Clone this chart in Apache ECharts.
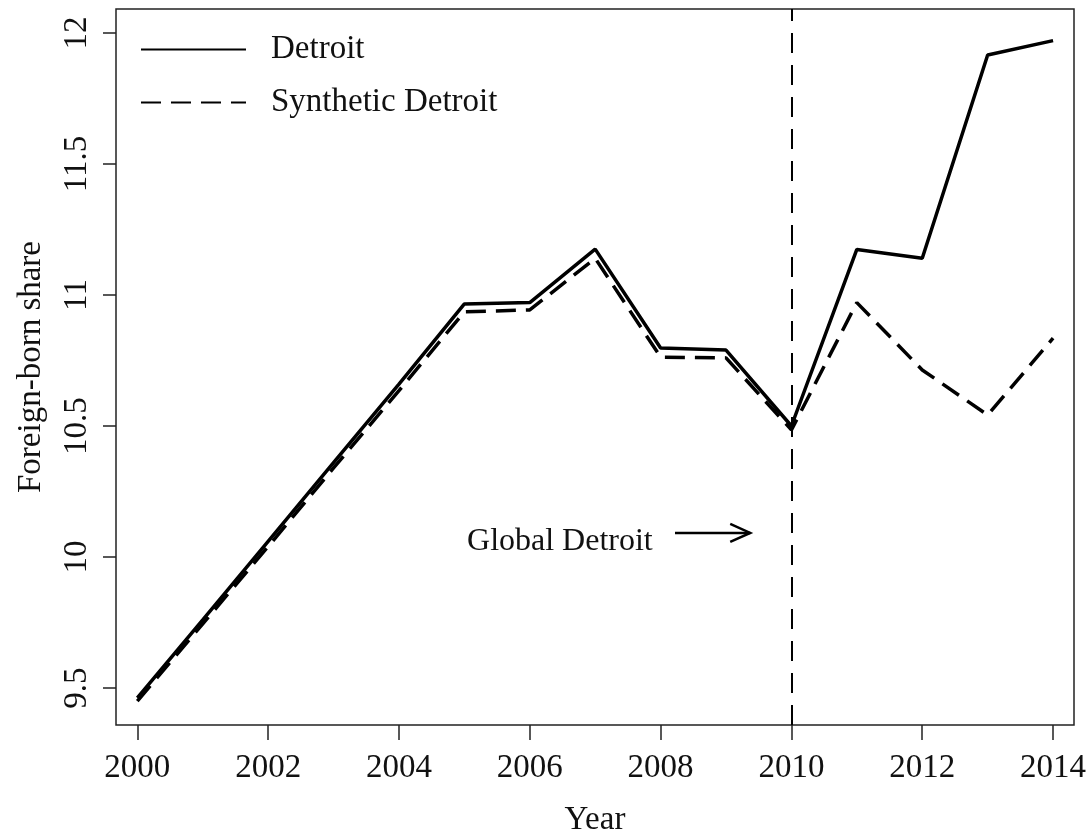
<!DOCTYPE html>
<html>
<head>
<meta charset="utf-8">
<script src="https://cdn.jsdelivr.net/npm/echarts@6/dist/echarts.min.js"></script>
<style>
html,body{margin:0;padding:0;background:#fff;}
#chart{width:1092px;height:834px;}
</style>
</head>
<body>
<div id="chart"></div>
<script>
const years = [2000,2001,2002,2003,2004,2005,2006,2007,2008,2009,2010,2011,2012,2013,2014];
const detroit = [9.462,9.76,10.06,10.36,10.66,10.966,10.971,11.175,10.798,10.79,10.50,11.174,11.14,11.916,11.971];
const synthetic = [9.45,9.745,10.04,10.34,10.635,10.936,10.943,11.14,10.763,10.76,10.485,10.971,10.714,10.542,10.835];
const xTicks = [2000,2002,2004,2006,2008,2010,2012,2014];
const yTicks = [9.5,10,10.5,11,11.5,12];
const treatmentYear = 2010;
const annotationText = 'Global Detroit';

const FONT = 'Liberation Serif';
const chart = echarts.init(document.getElementById('chart'));
const pair = arr => years.map((y,i)=>[y,arr[i]]);

chart.setOption({
  animation:false,
  backgroundColor:'#fff',
  grid:{left:116,right:18,top:9,bottom:109,show:true,borderColor:'#222',borderWidth:1.5,backgroundColor:'transparent',
        containLabel:false,outerBoundsMode:'none'},
  legend:{
    orient:'vertical',left:140,top:33,itemWidth:105,itemHeight:14,itemGap:20,padding:0,
    data:['Detroit','Synthetic Detroit'],
    itemStyle:{opacity:0},
    textStyle:{fontFamily:FONT,fontSize:33,color:'#111',lineHeight:33,padding:[0,0,0,20]}
  },
  xAxis:{
    type:'value',min:1999.674,max:2014.32,
    name:'Year',nameLocation:'middle',nameGap:79,
    nameTextStyle:{fontFamily:FONT,fontSize:33,color:'#111'},
    axisLine:{show:false},
    axisTick:{show:true,length:15,lineStyle:{color:'#222',width:1.5},customValues:xTicks},
    axisLabel:{fontFamily:FONT,fontSize:33,color:'#111',margin:27,customValues:xTicks,formatter:v=>String(v)},
    splitLine:{show:false}
  },
  yAxis:{
    type:'value',min:9.3588,max:12.0916,
    name:'Foreign-born share',nameLocation:'middle',nameGap:68,nameRotate:90,
    nameTextStyle:{fontFamily:FONT,fontSize:33,color:'#111'},
    axisLine:{show:false},
    axisTick:{show:true,length:13,lineStyle:{color:'#222',width:1.5},customValues:yTicks},
    axisLabel:{fontFamily:FONT,fontSize:33,color:'#111',margin:22,rotate:90,customValues:yTicks,formatter:v=>String(v)},
    splitLine:{show:false}
  },
  series:[
    {name:'Detroit',type:'line',symbol:'none',data:pair(detroit),
     lineStyle:{color:'#000',width:3.5,type:'solid'},itemStyle:{color:'#000'},
     markLine:{silent:true,symbol:'none',label:{show:false},
       lineStyle:{color:'#000',width:2,type:[20,12]},
       data:[{xAxis:treatmentYear}]}},
    {name:'Synthetic Detroit',type:'line',symbol:'none',data:pair(synthetic),
     lineStyle:{color:'#000',width:3.5,type:[20,10]},itemStyle:{color:'#000'}}
  ]
});

// annotation: text + arrow placed in data coordinates
const arrowY = 10.092;
const p0 = chart.convertToPixel({gridIndex:0},[2008.22,arrowY]);
const p1 = chart.convertToPixel({gridIndex:0},[2009.37,arrowY]);
const pt = chart.convertToPixel({gridIndex:0},[2007.88,10.06]);
chart.setOption({graphic:[
  {type:'text',x:pt[0],y:pt[1],style:{text:annotationText,font:'32px "Liberation Serif"',fill:'#111',align:'right',verticalAlign:'middle'}},
  {type:'polyline',shape:{points:[p0,p1]},style:{stroke:'#000',lineWidth:2.5,fill:null}},
  {type:'polyline',shape:{points:[[p1[0]-20,p1[1]-9],p1,[p1[0]-20,p1[1]+9]]},style:{stroke:'#000',lineWidth:2.5,fill:null}}
]});
</script>
</body>
</html>
